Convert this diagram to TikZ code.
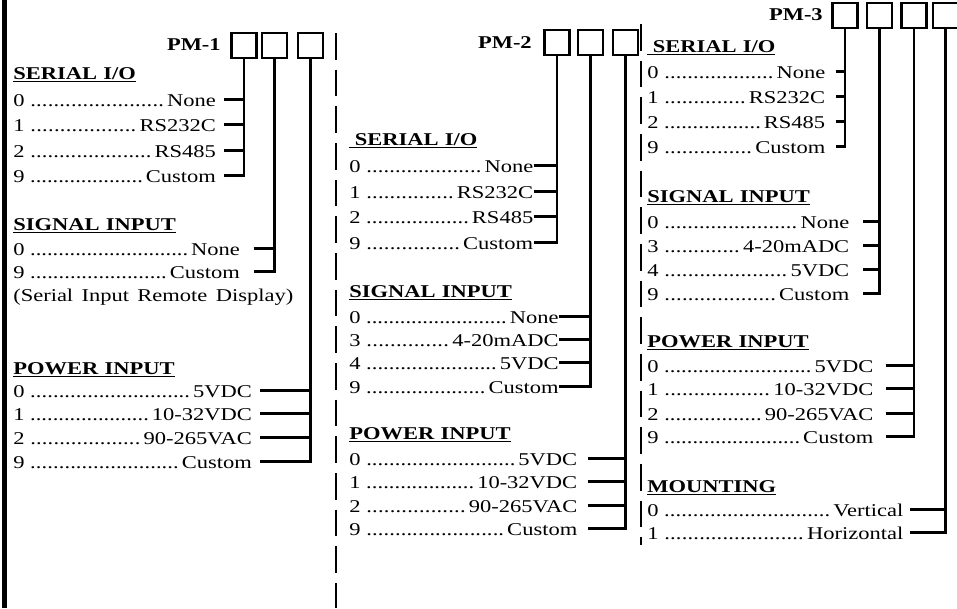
\documentclass[tikz,border=0pt]{standalone}
\usepackage{fontspec}
\setmainfont{Liberation Serif}[Scale=1.35, FakeStretch=1.25]
\usepackage{tikz}
\newcommand{\opt}[3]{\hbox to #1{#2\ \xleaders\hbox{.}\hfill\,#3}}
\begin{document}
\begin{tikzpicture}[x=0.75pt, y=-0.75pt,
  digitbox/.style={draw, line width=1.9pt, minimum width=18.5pt, minimum height=18.5pt, inner sep=0pt},
  pmlabel/.style={font=\bfseries, anchor=east, inner sep=0pt},
  head/.style={font=\bfseries, anchor=base west, inner sep=0pt},
  row/.style={anchor=base west, inner sep=0pt, text height=0.68em, text depth=0pt},
  wire/.style={line width=2.1pt},
  divider/.style={line width=2pt, dash pattern=on 20pt off 7.5pt}
]
  \useasboundingbox (0,0) rectangle (957,608);

  \coordinate (edgetop) at (4.5,0);
  \coordinate (edgebot) at (4.5,608);
  \draw[line width=3.75pt] (edgetop) -- (edgebot);
  \coordinate (d1top) at (336,33);
  \coordinate (d1bot) at (336,608);
  \draw[divider] (d1top) -- (d1bot);
  \coordinate (d2top) at (641,24);
  \coordinate (d2bot) at (641,545);
  \draw[divider] (d2top) -- (d2bot);

  \node[pmlabel] (pm1) at (221,45) {PM-1};
  \node[digitbox] (pm1a) at (244,45.5) {};
  \node[digitbox] (pm1b) at (274.5,45.5) {};
  \node[digitbox] (pm1c) at (310.5,45.5) {};

  \node[head] (h1s) at (13,79) {\underline{SERIAL\hspace{0.35em}I/O}};
  \node[row] (r1s0) at (13,106) {\opt{152pt}{0}{None}};
  \node[row] (r1s1) at (13,131) {\opt{152pt}{1}{RS232C}};
  \node[row] (r1s2) at (13,157) {\opt{152pt}{2}{RS485}};
  \node[row] (r1s9) at (13,182) {\opt{152pt}{9}{Custom}};
  \node[head] (h1g) at (13,230) {\underline{SIGNAL\hspace{0.35em}INPUT}};
  \node[row] (r1g0) at (13,255) {\opt{170pt}{0}{None}};
  \node[row] (r1g9) at (13,278) {\opt{170pt}{9}{Custom}};
  \node[anchor=base west, inner sep=0pt] (note1) at (13,301) {\hbox to 210pt{(Serial\hfill Input\hfill Remote\hfill Display)}};
  \node[head] (h1p) at (13,374) {\underline{POWER\hspace{0.35em}INPUT}};
  \node[row] (r1p0) at (13,397) {\opt{179pt}{0}{5VDC}};
  \node[row] (r1p1) at (13,420) {\opt{179pt}{1}{10-32VDC}};
  \node[row] (r1p2) at (13,444) {\opt{179pt}{2}{90-265VAC}};
  \node[row] (r1p9) at (13,468) {\opt{179pt}{9}{Custom}};

  \draw[wire] (pm1a.south) |- ([xshift=6pt]r1s9.east);
  \foreach \r in {r1s0,r1s1,r1s2}
    \draw[wire] ([xshift=6pt]\r.east) -- (\r.east -| pm1a.south);
  \draw[wire] (pm1b.south) |- ([xshift=10pt]r1g9.east);
  \draw[wire] ([xshift=10pt]r1g0.east) -- (r1g0.east -| pm1b.south);
  \draw[wire] (pm1c.south) |- ([xshift=6pt]r1p9.east);
  \foreach \r in {r1p0,r1p1,r1p2}
    \draw[wire] ([xshift=6pt]\r.east) -- (\r.east -| pm1c.south);

  \node[pmlabel] (pm2) at (532,43) {PM-2};
  \node[digitbox] (pm2a) at (557,42.5) {};
  \node[digitbox] (pm2b) at (590.5,42.5) {};
  \node[digitbox] (pm2c) at (625.5,42.5) {};

  \node[head] (h2s) at (349,145) {\underline{\ SERIAL\hspace{0.35em}I/O}};
  \node[row] (r2s0) at (349,172) {\opt{138pt}{0}{None}};
  \node[row] (r2s1) at (349,198) {\opt{138pt}{1}{RS232C}};
  \node[row] (r2s2) at (349,223) {\opt{138pt}{2}{RS485}};
  \node[row] (r2s9) at (349,249) {\opt{138pt}{9}{Custom}};
  \node[head] (h2g) at (349,297) {\underline{SIGNAL\hspace{0.35em}INPUT}};
  \node[row] (r2g0) at (349,323) {\opt{157pt}{0}{None}};
  \node[row] (r2g3) at (349,346) {\opt{157pt}{3}{4-20mADC}};
  \node[row] (r2g4) at (349,369) {\opt{157pt}{4}{5VDC}};
  \node[row] (r2g9) at (349,393) {\opt{157pt}{9}{Custom}};
  \node[head] (h2p) at (349,439) {\underline{POWER\hspace{0.35em}INPUT}};
  \node[row] (r2p0) at (349,465) {\opt{171pt}{0}{5VDC}};
  \node[row] (r2p1) at (349,488) {\opt{171pt}{1}{10-32VDC}};
  \node[row] (r2p2) at (349,512) {\opt{171pt}{2}{90-265VAC}};
  \node[row] (r2p9) at (349,535) {\opt{171pt}{9}{Custom}};

  \draw[wire] (pm2a.south) |- (r2s9.east);
  \foreach \r in {r2s0,r2s1,r2s2}
    \draw[wire] (\r.east) -- (\r.east -| pm2a.south);
  \draw[wire] (pm2b.south) |- (r2g9.east);
  \foreach \r in {r2g0,r2g3,r2g4}
    \draw[wire] (\r.east) -- (\r.east -| pm2b.south);
  \draw[wire] (pm2c.south) |- ([xshift=7.5pt]r2p9.east);
  \foreach \r in {r2p0,r2p1,r2p2}
    \draw[wire] ([xshift=7.5pt]\r.east) -- (\r.east -| pm2c.south);

  \node[pmlabel] (pm3) at (823,15) {PM-3};
  \node[digitbox] (pm3a) at (845,15.5) {};
  \node[digitbox] (pm3b) at (879.5,15.5) {};
  \node[digitbox] (pm3c) at (914,15.5) {};
  \node[digitbox] (pm3d) at (945.5,15.5) {};

  \node[head] (h3s) at (647,52) {\underline{\ SERIAL\hspace{0.35em}I/O}};
  \node[row] (r3s0) at (647,78) {\opt{133.5pt}{0}{None}};
  \node[row] (r3s1) at (647,103) {\opt{133.5pt}{1}{RS232C}};
  \node[row] (r3s2) at (647,128) {\opt{133.5pt}{2}{RS485}};
  \node[row] (r3s9) at (647,153) {\opt{133.5pt}{9}{Custom}};
  \node[head] (h3g) at (647,202) {\underline{SIGNAL\hspace{0.35em}INPUT}};
  \node[row] (r3g0) at (647,228) {\opt{151.5pt}{0}{None}};
  \node[row] (r3g3) at (647,252) {\opt{151.5pt}{3}{4-20mADC}};
  \node[row] (r3g4) at (647,276) {\opt{151.5pt}{4}{5VDC}};
  \node[row] (r3g9) at (647,300) {\opt{151.5pt}{9}{Custom}};
  \node[head] (h3p) at (647,347) {\underline{POWER\hspace{0.35em}INPUT}};
  \node[row] (r3p0) at (647,372) {\opt{169.5pt}{0}{5VDC}};
  \node[row] (r3p1) at (647,395) {\opt{169.5pt}{1}{10-32VDC}};
  \node[row] (r3p2) at (647,420) {\opt{169.5pt}{2}{90-265VAC}};
  \node[row] (r3p9) at (647,443) {\opt{169.5pt}{9}{Custom}};
  \node[head] (h3m) at (647,492) {\underline{MOUNTING}};
  \node[row] (r3m0) at (647,516) {\opt{192pt}{0}{Vertical}};
  \node[row] (r3m1) at (647,539) {\opt{192pt}{1}{Horizontal}};

  \draw[wire] (pm3a.south) |- ([xshift=7.5pt]r3s9.east);
  \foreach \r in {r3s0,r3s1,r3s2}
    \draw[wire] ([xshift=7.5pt]\r.east) -- (\r.east -| pm3a.south);
  \draw[wire] (pm3b.south) |- ([xshift=10pt]r3g9.east);
  \foreach \r in {r3g0,r3g3,r3g4}
    \draw[wire] ([xshift=10pt]\r.east) -- (\r.east -| pm3b.south);
  \draw[wire] (pm3c.south) |- ([xshift=9pt]r3p9.east);
  \foreach \r in {r3p0,r3p1,r3p2}
    \draw[wire] ([xshift=9pt]\r.east) -- (\r.east -| pm3c.south);
  \draw[wire] (pm3d.south) |- ([xshift=5pt]r3m1.east);
  \draw[wire] ([xshift=5pt]r3m0.east) -- (r3m0.east -| pm3d.south);
\end{tikzpicture}
\end{document}
